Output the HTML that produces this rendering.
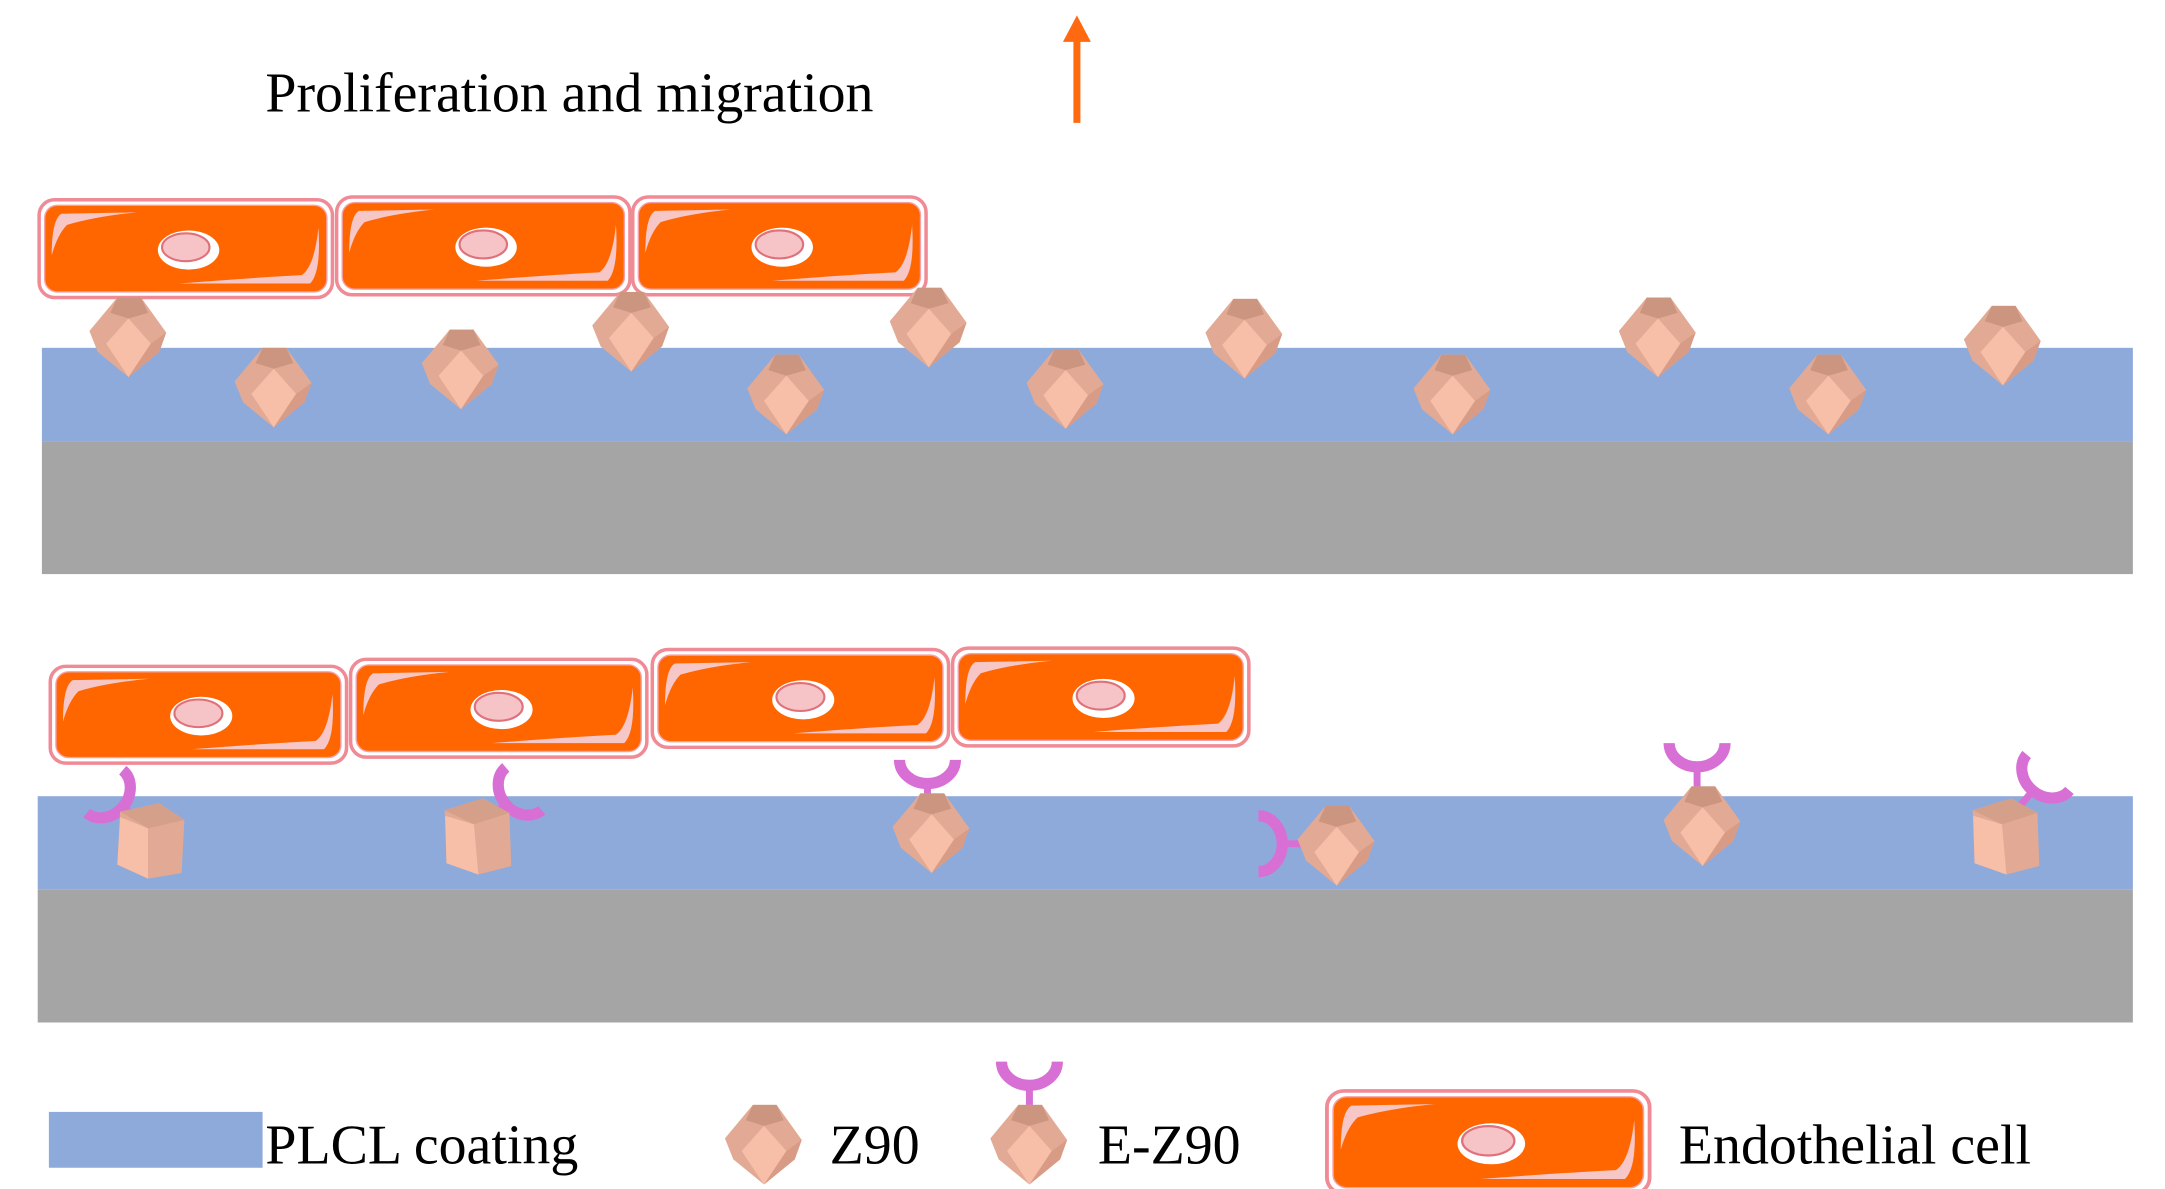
<!DOCTYPE html>
<html><head><meta charset="utf-8"><style>
html,body{margin:0;padding:0;background:#fff;}
svg{display:block;}
text{font-family:"Liberation Serif",serif;fill:#000;}
</style></head><body>
<svg width="2165" height="1189" viewBox="0 0 1550 851.2" preserveAspectRatio="none" xmlns="http://www.w3.org/2000/svg">
<defs>
<g id="cx">
  <polygon points="-8,-27 9,-27 27,-2 22,12 0,30 -22,12 -28,-3" fill="#e2aa94"/>
  <polygon points="-8,-27 9,-27 14,-16 0,-12 -13,-16" fill="#cc9580"/>
  <polygon points="0,-12 16,6 0,30 -16,6" fill="#f7bfa8"/>
  <polygon points="0,30 22,12 27,-2 16,6" fill="#d89c86"/>
</g>
<g id="blk">
  <polygon points="-22,-20 6,-26 24,-14 22,24 -2,28 -24,18" fill="#e2aa94"/>
  <polygon points="-22,-20 6,-26 24,-14 -2,-8" fill="#d4a08a"/>
  <polygon points="-22,-16 -2,-8 -2,28 -24,18" fill="#f7bfa8"/>
</g>
<g id="rec">
  <path d="M-20,-30 A20,17 0 0 0 20,-30" fill="none" stroke="#d86fd4" stroke-width="8"/>
  <line x1="0" y1="-14" x2="0" y2="2" stroke="#d86fd4" stroke-width="5"/>
</g>
<g id="cell">
  <rect x="0" y="0" width="210" height="70" rx="11" fill="#fff" stroke="#f08a95" stroke-width="2.5"/>
  <rect x="4" y="4" width="202" height="62" rx="9" fill="#ff6600" stroke="#f6a0a8" stroke-width="1"/>
  <path d="M9,40 Q9,14 16,10 L70,9 Q40,12 20,18 Q13,25 9,40Z" fill="#f7c6c6"/>
  <path d="M200,20 Q202,52 194,60 L100,60 Q150,56 188,54 Q197,48 200,20Z" fill="#f7c6c6"/>
  <ellipse cx="107" cy="36" rx="22" ry="14" fill="#fff"/>
  <ellipse cx="105" cy="34" rx="17" ry="10" fill="#f6c3c6" stroke="#e0707a" stroke-width="1.5"/>
</g>
</defs>

<text x="190" y="80" font-size="40">Proliferation and migration</text>
<line x1="771" y1="88" x2="771" y2="28" stroke="#ff6a10" stroke-width="5"/>
<polygon points="761,30 771,11 781,30" fill="#ff6a10"/>

<!-- top panel -->
<rect x="30" y="316" width="1497" height="95" fill="#a5a5a5"/>
<rect x="30" y="249" width="1497" height="67" fill="#8eaadb"/>
<use href="#cell" transform="translate(28,143)"/>
<use href="#cell" transform="translate(241,141)"/>
<use href="#cell" transform="translate(453,141)"/>
<use href="#cx" transform="translate(92,240)"/>
<use href="#cx" transform="translate(196,276)"/>
<use href="#cx" transform="translate(330,263)"/>
<use href="#cx" transform="translate(452,236)"/>
<use href="#cx" transform="translate(563,281)"/>
<use href="#cx" transform="translate(665,233)"/>
<use href="#cx" transform="translate(763,277)"/>
<use href="#cx" transform="translate(891,241)"/>
<use href="#cx" transform="translate(1040,281)"/>
<use href="#cx" transform="translate(1187,240)"/>
<use href="#cx" transform="translate(1309,281)"/>
<use href="#cx" transform="translate(1434,246)"/>

<!-- bottom panel -->
<rect x="27" y="637" width="1500" height="95" fill="#a5a5a5"/>
<rect x="27" y="570" width="1500" height="67" fill="#8eaadb"/>
<use href="#cell" transform="translate(36,477) scale(1.01,0.99)"/>
<use href="#cell" transform="translate(251,472) scale(1.01,1)"/>
<use href="#cell" transform="translate(467,465) scale(1.01,1)"/>
<use href="#cell" transform="translate(682,464) scale(1.01,1)"/>
<use href="#rec" transform="translate(98,586) rotate(-50)"/>
<use href="#rec" transform="translate(352,584) rotate(50)"/>
<use href="#rec" transform="translate(664,574)"/>
<use href="#rec" transform="translate(931,604) rotate(-90)"/>
<use href="#rec" transform="translate(1215,562)"/>
<use href="#rec" transform="translate(1447,576) rotate(40)"/>
<use href="#blk" transform="translate(108,601)"/>
<use href="#blk" transform="translate(342,598) rotate(-5)"/>
<use href="#cx" transform="translate(667,595)"/>
<use href="#cx" transform="translate(957,604)"/>
<use href="#cx" transform="translate(1219,590)"/>
<use href="#blk" transform="translate(1436,598) rotate(-5)"/>

<!-- legend -->
<rect x="35" y="796" width="153" height="40" fill="#8eaadb"/>
<text x="190" y="833" font-size="40">PLCL coating</text>
<use href="#cx" transform="translate(547,818)"/>
<text x="594" y="833" font-size="40">Z90</text>
<use href="#rec" transform="translate(737,790)"/>
<use href="#cx" transform="translate(737,818)"/>
<text x="786" y="833" font-size="40">E-Z90</text>
<use href="#cell" transform="translate(950,781) scale(1.1,1.05)"/>
<text x="1202" y="833" font-size="40">Endothelial cell</text>
</svg>
</body></html>
